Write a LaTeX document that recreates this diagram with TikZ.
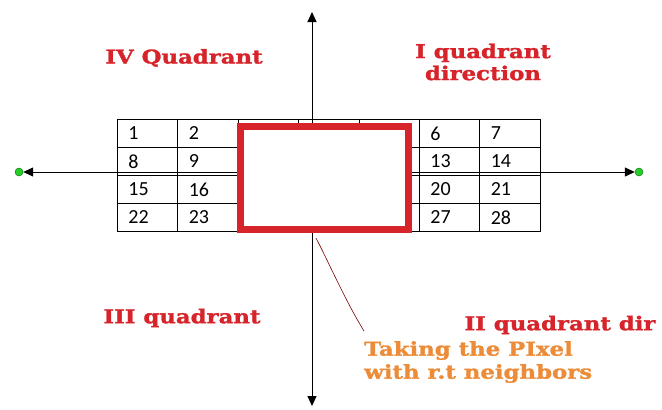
\documentclass[tikz,border=0pt]{standalone}
\usepackage{fontspec}
\setmainfont{DejaVu Serif}
\newfontfamily\cellfont{Carlito}
\newfontfamily\quadfont{DejaVu Serif}[FakeStretch=1.2, FakeBold=1.5, BoldFont={* Bold}]
\usetikzlibrary{positioning,arrows.meta}
\definecolor{quadred}{RGB}{214,36,42}
\definecolor{noteorange}{RGB}{236,140,56}
\definecolor{dotgreen}{RGB}{40,205,40}
\tikzset{
  quadlabel/.style={text=quadred, font=\quadfont\bfseries\fontsize{19}{22}\selectfont, align=center},
  notelabel/.style={text=noteorange, font=\quadfont\bfseries\fontsize{19}{23}\selectfont, align=left},
  cell/.style={draw, line width=0.8pt, minimum width=60.4pt, minimum height=28pt,
    inner xsep=11pt, inner ysep=0pt, text width=38.4pt, align=left, anchor=north west,
    font=\cellfont\fontsize{20}{20}\selectfont},
  enddot/.style={circle, fill=dotgreen, draw=green!40!black, inner sep=0pt, minimum size=8pt},
}
\begin{document}
\begin{tikzpicture}[x=1pt, y=-1pt, >={Triangle[length=10pt,width=9pt]}]
\useasboundingbox (0,0) rectangle (662,410);
\coordinate (O) at (312,172);
\coordinate (ytop) at (312,12);
\coordinate (ybot) at (312,406);
\coordinate (tip) at (316,238);
\node[enddot] (dl) at (19,172) {};
\node[enddot] (dr) at (639,172) {};
% pixel grid
\foreach \r in {1,...,4}
  \foreach \c in {1,...,7} {
    \pgfmathtruncatemacro\n{7*(\r-1)+\c}
    \pgfmathtruncatemacro\shown{(\c<3)||(\c>5)}
    \node[cell] (c\r\c) at ({117+60.4*(\c-1)},{119+28*(\r-1)}) {\ifnum\shown=1 \n\fi};
  }
% axes
\draw[->, line width=1pt] (O) -- (dl);
\draw[->, line width=1pt] (O) -- (dr);
\draw[->, line width=1pt] (O) -- (ytop);
\draw[->, line width=1pt] (O) -- (ybot);
% current pixel
\node[draw=quadred, line width=7pt, fill=white, minimum width=168pt, minimum height=103pt] (pix) at (324,177.5) {};
\node[quadlabel] (q4) at (184,58) {IV Quadrant};
\node[quadlabel] (q1) at (483,62) {I quadrant\\direction};
\node[quadlabel] (q3) at (182,318) {III quadrant};
\node[quadlabel] (q2) at (560,325) {II quadrant dir};
\node[notelabel, anchor=north west, inner sep=0pt] (note) at (364,341) {Taking the PIxel\\with r.t neighbors};
\draw[red!45!black, line width=0.6pt] (tip) .. controls (330,265) and (345,300) .. ([yshift=10pt]note.north west);
\end{tikzpicture}
\end{document}
